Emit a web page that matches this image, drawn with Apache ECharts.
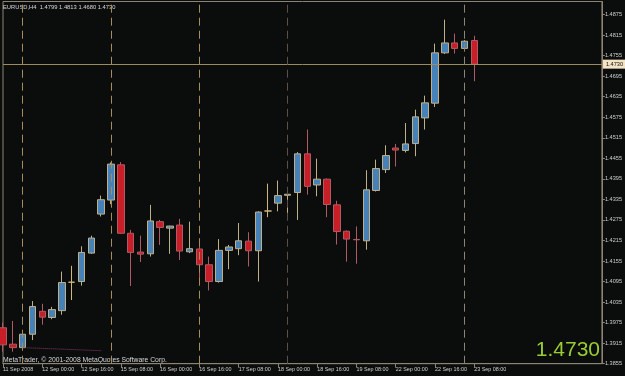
<!DOCTYPE html>
<html>
<head>
<meta charset="utf-8">
<script src="https://cdn.jsdelivr.net/npm/echarts@6/dist/echarts.min.js"></script>
<style>
html,body{margin:0;padding:0;background:#0b0c0c;}
#c{width:625px;height:376px;}
</style>
</head>
<body>
<div id="c"></div>
<script>
// H4 bar times (tick labels shown every 4th bar)
var times = [
 "11 Sep 2008","11 Sep 12:00","11 Sep 16:00","11 Sep 20:00",
 "12 Sep 00:00","12 Sep 04:00","12 Sep 08:00","12 Sep 12:00",
 "12 Sep 16:00","12 Sep 20:00","15 Sep 00:00","15 Sep 04:00",
 "15 Sep 08:00","15 Sep 12:00","15 Sep 16:00","15 Sep 20:00",
 "16 Sep 00:00","16 Sep 04:00","16 Sep 08:00","16 Sep 12:00",
 "16 Sep 16:00","16 Sep 20:00","17 Sep 00:00","17 Sep 04:00",
 "17 Sep 08:00","17 Sep 12:00","17 Sep 16:00","17 Sep 20:00",
 "18 Sep 00:00","18 Sep 04:00","18 Sep 08:00","18 Sep 12:00",
 "18 Sep 16:00","18 Sep 20:00","19 Sep 00:00","19 Sep 04:00",
 "19 Sep 08:00","19 Sep 12:00","19 Sep 16:00","19 Sep 20:00",
 "22 Sep 00:00","22 Sep 04:00","22 Sep 08:00","22 Sep 12:00",
 "22 Sep 16:00","22 Sep 20:00","23 Sep 00:00","23 Sep 04:00",
 "23 Sep 08:00"
];
var opens  = [1.3960,1.3912,1.3902,1.3941,1.4008,1.3990,1.4010,1.4093,1.4095,1.4178,
              1.4292,1.4333,1.4436,1.4236,1.4181,1.4176,1.4270,1.4251,1.4260,1.4182,
              1.4190,1.4144,1.4095,1.4186,1.4191,1.4213,1.4185,1.4301,1.4324,1.4347,
              1.4355,1.4468,1.4377,1.4394,1.4319,1.4242,1.4218,1.4214,1.4361,1.4422,
              1.4485,1.4478,1.4498,1.4573,1.4616,1.4763,1.4792,1.4776,1.4799];
var highs  = [1.3975,1.3980,1.3943,1.4038,1.4030,1.4021,1.4124,1.4141,1.4198,1.4229,
              1.4346,1.4443,1.4444,1.4246,1.4229,1.4319,1.4275,1.4258,1.4278,1.4270,
              1.4222,1.4168,1.4219,1.4202,1.4266,1.4239,1.4300,1.4381,1.4390,1.4352,
              1.4473,1.4539,1.4454,1.4396,1.4331,1.4244,1.4256,1.4420,1.4451,1.4493,
              1.4497,1.4558,1.4597,1.4638,1.4790,1.4860,1.4819,1.4800,1.4813];
var lows   = [1.3890,1.3890,1.3894,1.3924,1.3969,1.3985,1.3998,1.4041,1.4083,1.4176,
              1.4285,1.4321,1.4234,1.4082,1.4152,1.4168,1.4202,1.4176,1.4158,1.4178,
              1.4105,1.4069,1.4092,1.4131,1.4172,1.4139,1.4095,1.4283,1.4300,1.4295,
              1.4275,1.4349,1.4344,1.4283,1.4203,1.4153,1.4147,1.4188,1.4358,1.4412,
              1.4431,1.4472,1.4461,1.4539,1.4605,1.4760,1.4761,1.4774,1.4680];
var closes = [1.3910,1.3902,1.3941,1.4022,1.3991,1.4013,1.4092,1.4093,1.4180,1.4222,
              1.4334,1.4438,1.4236,1.4180,1.4175,1.4272,1.4253,1.4257,1.4184,1.4191,
              1.4144,1.4095,1.4186,1.4196,1.4214,1.4185,1.4298,1.4301,1.4346,1.4350,
              1.4468,1.4373,1.4394,1.4320,1.4241,1.4219,1.4217,1.4363,1.4425,1.4463,
              1.4479,1.4497,1.4576,1.4617,1.4763,1.4792,1.4776,1.4797,1.4730];
// period separator bar indices
var sepIdx = [2, 11, 20, 29, 47];
var sepColors = ["#a88c5c","#a88c5c","#a88c5c","#5e5048","#8a8577"];
// dotted indicator line points [barIndex, price]
var dotLine = [[2, 1.3902], [10, 1.3893]];
var symbolName = "EURUSD,H4";
var yTickStart = 1.3855, yTickStep = 0.006, yTop = 1.4913;
var padBars = 13;

var cats = times.slice();
for (var i = 0; i < padBars; i++) cats.push("pad" + i);
var candles = opens.map(function (o, i) { return [o, closes[i], lows[i], highs[i]]; });
var last = candles.length - 1;
var lastClose = closes[last];

var FONT = "'Liberation Sans',Arial,sans-serif";
var markData = [{
  yAxis: lastClose,
  lineStyle: {color: "#9c8c5c", width: 1, type: "solid"},
  label: {show: true, position: "end", distance: 1, formatter: lastClose.toFixed(4),
          backgroundColor: "#f2e4c4", color: "#111", fontSize: 5.6, fontFamily: FONT,
          padding: [2, 3, 1, 3]}
}];
sepIdx.forEach(function (k, j) {
  markData.push({
    xAxis: times[k],
    lineStyle: {color: sepColors[j], width: 1, type: [8, 5]},
    label: {show: false}
  });
});

var chart = echarts.init(document.getElementById("c"), null, {renderer: "canvas"});
chart.setOption({
  animation: false,
  backgroundColor: "#0b0c0c",
  grid: {left: 2, right: 23, top: 1.5, bottom: 12.3, show: true, borderColor: "#8c8474", borderWidth: 1, backgroundColor: "transparent"},
  xAxis: {
    type: "category", data: cats, boundaryGap: false,
    axisLine: {show: true, lineStyle: {color: "#8c8474"}},
    axisTick: {show: true, length: 4, lineStyle: {color: "#8c8474"},
      interval: function (idx) { return idx < times.length && idx % 4 === 0; }},
    axisLabel: {show: true, align: "left", margin: 3, color: "#cfcfcf", fontSize: 5.4, fontFamily: FONT,
      interval: function (idx) { return idx < times.length && idx % 4 === 0; },
      formatter: function (v) { return v; }},
    splitLine: {show: false}
  },
  yAxis: {
    type: "value", position: "right", scale: true,
    min: yTickStart, max: yTop, interval: yTickStep,
    axisLine: {show: true, lineStyle: {color: "#8c8474"}},
    axisTick: {show: true, length: 3, lineStyle: {color: "#8c8474"}},
    axisLabel: {show: true, margin: 3, color: "#cfcfcf", fontSize: 5.6, fontFamily: FONT,
      showMaxLabel: false,
      formatter: function (v) { return v.toFixed(4); }},
    splitLine: {show: false}
  },
  series: [{
    type: "candlestick",
    data: candles,
    barWidth: 7,
    itemStyle: {
      color: "#4682b8", color0: "#c81e28",
      borderColor: "#c0b08a", borderColor0: "#b05a64",
      borderColorDoji: "#d0b878", borderWidth: 1
    },
    markLine: {silent: true, precision: 4, symbol: ["none", "none"], animation: false, data: markData}
  }, {
    type: "line", data: dotLine, symbol: "none",
    lineStyle: {color: "#8a3a6a", width: 1, type: "dotted"}
  }],
  graphic: [
    {type: "text", x: 3, y: 7, style: {text: symbolName + "  " + [opens[last], highs[last], lows[last], closes[last]].map(function(v){return v.toFixed(4);}).join(" "),
      fill: "#d8d8d8", fontSize: 5.8, fontFamily: FONT, textVerticalAlign: "middle"}},
    {type: "text", x: 3, y: 360, style: {text: "MetaTrader, \u00a9 2001-2008 MetaQuotes Software Corp.",
      fill: "#d8d8d8", fontSize: 6.8, fontFamily: FONT, textVerticalAlign: "middle"}},
    {type: "text", x: 600, y: 350, style: {text: lastClose.toFixed(4), fill: "#9acd32", fontSize: 21,
      fontFamily: "'Liberation Sans',Arial,sans-serif", textAlign: "right", textVerticalAlign: "middle"}}
  ]
});
</script>
</body>
</html>
